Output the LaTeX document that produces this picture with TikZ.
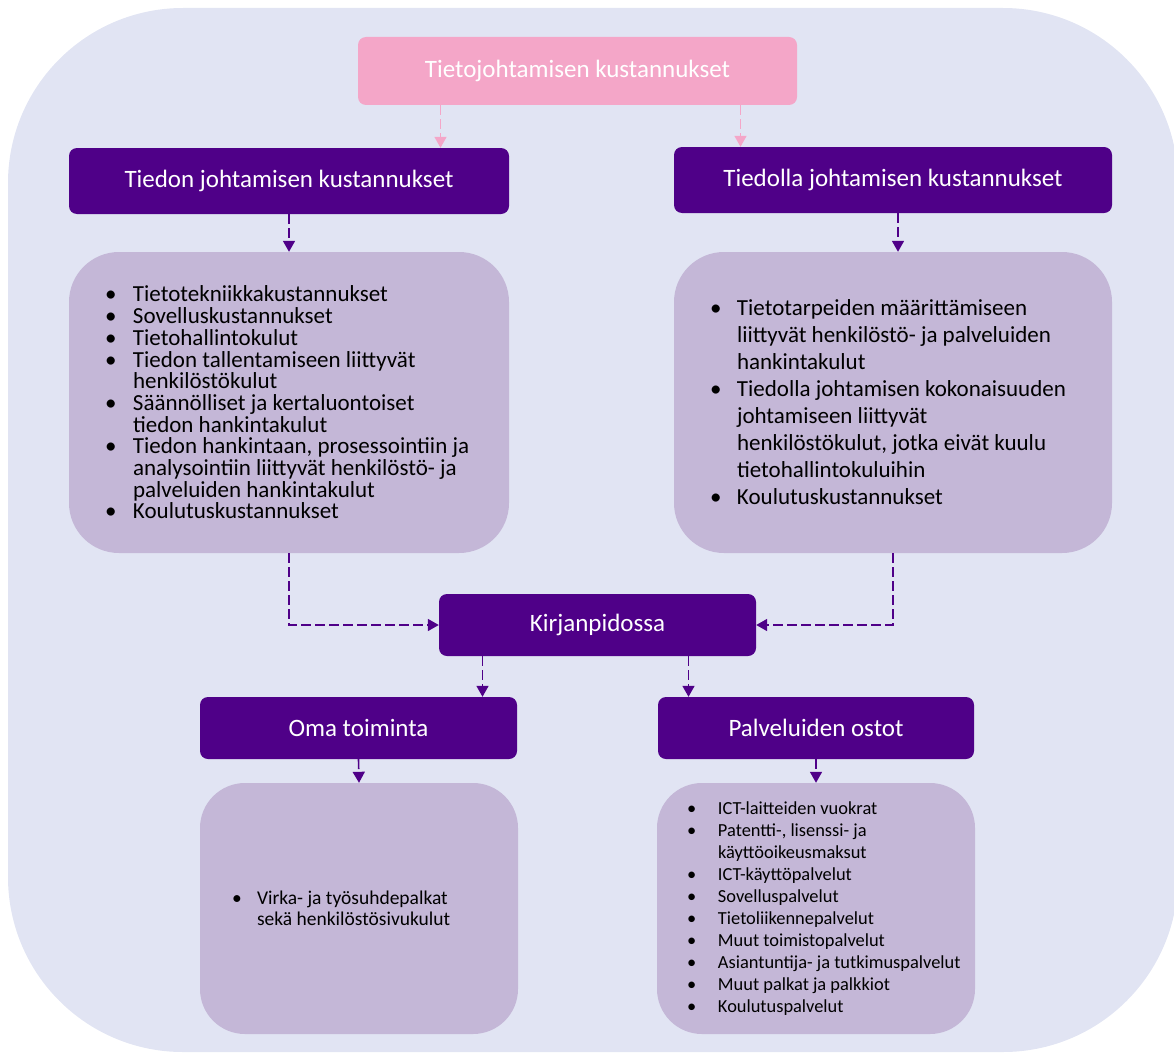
\documentclass[tikz,border=0pt]{standalone}
\usepackage{fontspec}
\setmainfont{Carlito}
\usetikzlibrary{arrows.meta}
\definecolor{taustasini}{HTML}{E1E4F3}
\definecolor{violetti}{HTML}{4F0088}
\definecolor{laventeli}{HTML}{C4B7D7}
\definecolor{pinkki}{HTML}{F4A6C8}
\setlength{\parindent}{0pt}
\newlength{\kohtaleveys}
\newcommand{\kohta}{\par\hangindent=\kohtaleveys\hangafter=1\makebox[\kohtaleveys][l]{\textbullet}}
\begin{document}
\begin{tikzpicture}[x=1pt,y=-1pt]
    % Styles
    \tikzset{
        header/.style={rectangle, rounded corners=8pt, fill=violetti, text=white, minimum width=440pt, minimum height=66pt, font=\fontsize{25}{30}\selectfont},
        listbox/.style={rectangle, rounded corners=50pt, fill=laventeli},
        listtext/.style={anchor=west, inner sep=0pt, text=black},
        arrow/.style={-{Triangle[width=12pt,length=11pt]}, line width=1.6pt, dash pattern=on 10pt off 4pt, draw=violetti},
        pinkarrow/.style={arrow, draw=pinkki}
    }
    \useasboundingbox (0,0) rectangle (1174,1054);
    \fill[taustasini, rounded corners=175pt] (8,8) rectangle (1178,1052);

    % Top
    \node[header, fill=pinkki, minimum width=439pt, minimum height=68pt] (top) at (577.5,71) {Tietojohtamisen kustannukset};

    % Left and right branch
    \node[header] (hl) at (289,181) {Tiedon johtamisen kustannukset};
    \node[header, minimum width=438pt] (hr) at (893,180) {Tiedolla johtamisen kustannukset};

    \node[listbox, minimum width=440pt, minimum height=301pt] (ll) at (289,402.5) {};
    \node[listtext, font={\fontsize{23}{21.7}\selectfont\lineskiplimit=-100pt\setlength{\kohtaleveys}{28pt}}]
        (llt) at ([xshift=36pt]ll.west) {\begin{minipage}{400pt}
        \kohta Tietotekniikkakustannukset
        \kohta Sovelluskustannukset
        \kohta Tietohallintokulut
        \kohta Tiedon tallentamiseen liittyvät\newline henkilöstökulut
        \kohta Säännölliset ja kertaluontoiset\newline tiedon hankintakulut
        \kohta Tiedon hankintaan, prosessointiin ja\newline analysointiin liittyvät henkilöstö- ja\newline palveluiden hankintakulut
        \kohta Koulutuskustannukset
        \end{minipage}};
    \node[listbox, minimum width=438pt, minimum height=301pt] (lr) at (893,402.5) {};
    \node[listtext, font={\fontsize{23}{27}\selectfont\lineskiplimit=-100pt\setlength{\kohtaleveys}{27pt}}]
        (lrt) at ([xshift=36pt]lr.west) {\begin{minipage}{400pt}
        \kohta Tietotarpeiden määrittämiseen\newline liittyvät henkilöstö- ja palveluiden\newline hankintakulut
        \kohta Tiedolla johtamisen kokonaisuuden\newline johtamiseen liittyvät\newline henkilöstökulut, jotka eivät kuulu\newline tietohallintokuluihin
        \kohta Koulutuskustannukset
        \end{minipage}};

    % Bookkeeping
    \node[header, minimum width=317pt, minimum height=62pt] (kirja) at (597.5,625) {Kirjanpidossa};
    \node[header, minimum width=317pt, minimum height=62pt] (oma) at (358.5,728) {Oma toiminta};
    \node[header, minimum width=316pt, minimum height=62pt] (palv) at (816,728) {Palveluiden ostot};

    \node[listbox, rounded corners=45pt, minimum width=318pt, minimum height=251pt] (bl) at (359,908.5) {};
    \node[listtext, font={\fontsize{19.5}{21}\selectfont\lineskiplimit=-100pt\setlength{\kohtaleveys}{25pt}}]
        (blt) at ([xshift=32pt]bl.west) {\begin{minipage}{280pt}
        \kohta Virka- ja työsuhdepalkat\newline sekä henkilöstösivukulut
        \end{minipage}};
    \node[listbox, rounded corners=45pt, minimum width=318pt, minimum height=251pt] (br) at (816,908.5) {};
    \node[listtext, font={\fontsize{18.4}{22}\selectfont\lineskiplimit=-100pt\setlength{\kohtaleveys}{31pt}}]
        (brt) at ([xshift=30pt]br.west) {\begin{minipage}{300pt}
        \kohta ICT-laitteiden vuokrat
        \kohta Patentti-, lisenssi- ja\newline käyttöoikeusmaksut
        \kohta ICT-käyttöpalvelut
        \kohta Sovelluspalvelut
        \kohta Tietoliikennepalvelut
        \kohta Muut toimistopalvelut
        \kohta Asiantuntija- ja tutkimuspalvelut
        \kohta Muut palkat ja palkkiot
        \kohta Koulutuspalvelut
        \end{minipage}};

    % Arrows
    \draw[pinkarrow] ([xshift=-137pt]top.south) -- ([xshift=-137pt]top.south |- hl.north);
    \draw[pinkarrow] ([xshift=163pt]top.south) -- ([xshift=163pt]top.south |- hr.north);
    \draw[arrow] (hl.south) -- (ll.north);
    \draw[arrow] ([xshift=5pt]hr.south) -- ([xshift=5pt]lr.north);
    \draw[arrow] (ll.south) |- (kirja.west);
    \draw[arrow] (lr.south) |- (kirja.east);
    \draw[arrow] ([xshift=-115pt]kirja.south) -- ([xshift=-115pt]kirja.south |- oma.north);
    \draw[arrow] ([xshift=91pt]kirja.south) -- ([xshift=91pt]kirja.south |- palv.north);
    \draw[arrow] (oma.south) -- (bl.north);
    \draw[arrow] (palv.south) -- (br.north);
\end{tikzpicture}
\end{document}
